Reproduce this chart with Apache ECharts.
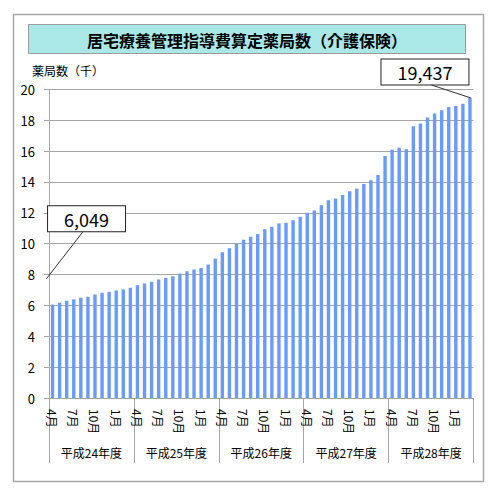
<!DOCTYPE html>
<html><head><meta charset="utf-8">
<script src="https://cdn.jsdelivr.net/npm/echarts@6/dist/echarts.min.js"></script>
<style>html,body{margin:0;padding:0;background:#fff}#c{width:500px;height:498px}</style>
</head><body><div id="c"></div>
<script>
const titleText = '居宅療養管理指導費算定薬局数（介護保険）';
const yAxisName = '薬局数（千）';
const months = ['4月','5月','6月','7月','8月','9月','10月','11月','12月','1月','2月','3月'];
const fiscalYears = ['平成24年度','平成25年度','平成26年度','平成27年度','平成28年度'];
const yTicks = [0,2,4,6,8,10,12,14,16,18,20];
const pharmacies = [
  6.049, 6.17, 6.30, 6.39, 6.50, 6.56, 6.70, 6.82, 6.88, 6.97, 7.03, 7.14,
  7.31, 7.42, 7.53, 7.68, 7.78, 7.89, 8.06, 8.21, 8.33, 8.42, 8.64, 9.03,
  9.44, 9.70, 10.00, 10.26, 10.44, 10.62, 10.94, 11.09, 11.31, 11.35, 11.52, 11.74,
  12.00, 12.14, 12.49, 12.81, 12.93, 13.15, 13.40, 13.57, 13.87, 14.11, 14.45, 15.68,
  16.09, 16.22, 16.12, 17.60, 17.78, 18.17, 18.43, 18.64, 18.85, 18.91, 19.07, 19.437
];
const categories = [];
fiscalYears.forEach(() => months.forEach(m => categories.push(m)));
const lastIdx = pharmacies.length - 1;
const FONT = '"Noto Sans CJK JP", "Noto Sans", sans-serif';
const calloutStyle = {
  show: true, position: 'top', fontSize: 18, fontFamily: FONT, color: '#000',
  backgroundColor: '#fff', borderColor: '#222', borderWidth: 1,
  padding: [2, 16, 1, 16], lineHeight: 22,
  formatter: p => Math.round(p.value * 1000).toLocaleString('en-US')
};
const barData = pharmacies.map((v, i) => (i === 0 || i === lastIdx) ? { value: v, label: calloutStyle } : v);
const chart = echarts.init(document.getElementById('c'), null, { renderer: 'svg' });
chart.setOption({
  animation: false,
  textStyle: { fontFamily: FONT },
  graphic: [
    { id: 'frame', type: 'rect', shape: { x: 13.5, y: 14.5, width: 470, height: 467 }, style: { fill: 'none', stroke: '#a8a8a8', lineWidth: 1.5 }, z: -10 },
    { id: 'tbox', type: 'rect', shape: { x: 28.5, y: 24.5, width: 437, height: 29 }, style: { fill: '#a9e8e6', stroke: '#9a9a9a', lineWidth: 1 } },
    { id: 'ttext', type: 'text', x: 247, y: 39.5, style: { text: titleText, fontSize: 16, fontWeight: 'bold', fontFamily: FONT, fill: '#000', align: 'center', verticalAlign: 'middle' } },
    { id: 'yname', type: 'text', x: 32, y: 70, style: { text: yAxisName, fontSize: 12, fontFamily: FONT, fill: '#000', align: 'left', verticalAlign: 'middle' } }
  ],
  grid: { left: 49, right: 26.5, top: 89.3, bottom: 100 },
  xAxis: [
    {
      type: 'category', data: categories, position: 'bottom',
      axisLine: { show: true, lineStyle: { color: '#a6a6a6', width: 1 } },
      axisTick: { show: false },
      axisLabel: { interval: (i) => i % 3 === 0, rotate: -90, margin: 11, fontSize: 12, color: '#000', fontFamily: FONT }
    },
    {
      type: 'category', data: fiscalYears, position: 'bottom',
      axisLine: { show: false },
      axisTick: { show: true, length: 65, lineStyle: { color: '#a6a6a6', width: 1 } },
      axisLabel: { interval: 0, margin: 48, fontSize: 12, color: '#000', fontFamily: FONT }
    }
  ],
  yAxis: {
    type: 'value', min: 0, max: 20, interval: 2,
    axisLine: { show: true, lineStyle: { color: '#a6a6a6' } },
    axisTick: { show: true, length: 5, lineStyle: { color: '#a6a6a6' } },
    splitLine: { lineStyle: { color: '#a6a6a6', width: 1 } },
    axisLabel: { margin: 14, fontSize: 13, color: '#000', fontFamily: FONT, formatter: v => yTicks.includes(v) ? String(v) : '' }
  },
  series: [{
    type: 'bar', data: barData, barWidth: '48%', xAxisIndex: 0,
    itemStyle: { color: '#6b9bfa' },
    label: { show: false },
    labelLayout: (p) => {
      const cx = p.rect.x + p.rect.width / 2;
      if (p.dataIndex === 0) return { x: cx + 34, y: p.rect.y - 86, align: 'center', verticalAlign: 'middle' };
      if (p.dataIndex === lastIdx) return { x: cx - 45, y: p.rect.y - 26, align: 'center', verticalAlign: 'middle' };
      return {};
    }
  }]
});
// leader lines anchored to the data points of the first and last bars
const p0 = chart.convertToPixel({ seriesIndex: 0 }, [0, pharmacies[0]]);
const pN = chart.convertToPixel({ seriesIndex: 0 }, [lastIdx, pharmacies[lastIdx]]);
chart.setOption({
  graphic: [
    { id: 'lead1', type: 'line', shape: { x1: p0[0] + 30.5, y1: p0[1] - 73, x2: p0[0] - 6, y2: p0[1] - 26 }, style: { stroke: '#333', lineWidth: 1 }, z: 5 },
    { id: 'lead2', type: 'line', shape: { x1: pN[0] - 38.5, y1: pN[1] - 13, x2: pN[0] + 1, y2: pN[1] }, style: { stroke: '#333', lineWidth: 1 }, z: 5 }
  ]
});
</script></body></html>
